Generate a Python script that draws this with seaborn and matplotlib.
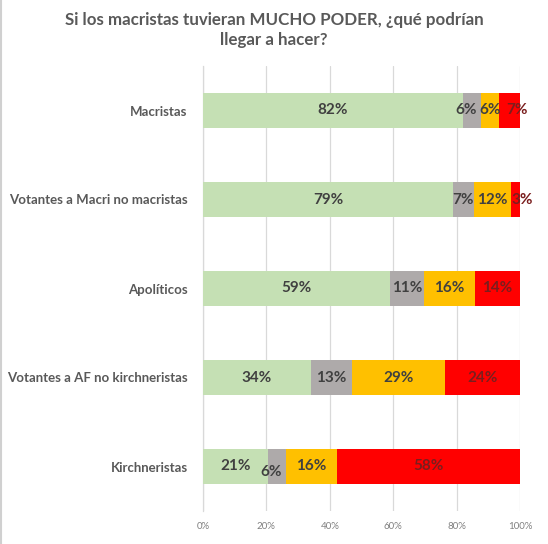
import matplotlib
matplotlib.use("Agg")
import matplotlib.pyplot as plt
import seaborn as sns
import numpy as np
import pandas as pd
from matplotlib.ticker import FuncFormatter
from matplotlib.lines import Line2D
from matplotlib.transforms import offset_copy

# ---- data ----
categories = ["Macristas", "Votantes a Macri no macristas", "Apolíticos",
              "Votantes a AF no kirchneristas", "Kirchneristas"]
green_vals = [81.9, 78.8, 59.0, 34.1, 20.6]
gray_vals = [5.7, 6.7, 10.6, 13.0, 5.6]
yellow_vals = [5.8, 11.6, 16.2, 29.1, 16.0]
red_vals = [6.6, 2.9, 14.2, 23.8, 57.8]
green_labels = ["82%", "79%", "59%", "34%", "21%"]
gray_labels = ["6%", "7%", "11%", "13%", "6%"]
yellow_labels = ["6%", "12%", "16%", "29%", "16%"]
red_labels = ["7%", "3%", "14%", "24%", "58%"]
x_ticks = [0, 20, 40, 60, 80, 100]
title_text = "Si los macristas tuvieran MUCHO PODER, ¿qué podrían\nllegar a hacer?"

# ---- style ----
colors = ["#C5E0B4", "#AEAAAA", "#FFC000", "#FF0000"]
label_colors = ["#404040", "#404040", "#404040", "#7A1E1E"]
# label nudges in pixels (dx, dy) keyed by (series, row) to mimic the original layout
nudges = {(1, 0): (-6, 0), (3, 0): (7, 0), (3, 1): (7, 0), (1, 4): (-6, -5)}

sns.set_theme(style="white")
plt.rcParams['font.family'] = ['Lato', 'DejaVu Sans']

fig = plt.figure(figsize=(5.48, 5.44), dpi=100)
ax = fig.add_axes([203/548, 1-511/544, (520-203)/548, (511-66)/544])

vals = [green_vals, gray_vals, yellow_vals, red_vals]
labels = [green_labels, gray_labels, yellow_labels, red_labels]
cums = np.cumsum(np.array(vals), axis=0)

for i in range(3, -1, -1):
    df = pd.DataFrame({"cat": categories, "val": cums[i]})
    sns.barplot(data=df, x="val", y="cat", orient="h", color=colors[i],
                width=0.395, saturation=1, ax=ax, zorder=3, linewidth=0)

for i in range(4):
    starts = cums[i] - np.array(vals[i])
    for j, cat in enumerate(categories):
        cx = starts[j] + vals[i][j] / 2
        dx, dy = nudges.get((i, j), (0, 0))
        tr = offset_copy(ax.transData, fig=fig, x=dx, y=dy, units="dots")
        ax.text(cx, j, labels[i][j], ha="center", va="center", transform=tr,
                fontsize=11, fontweight="bold", color=label_colors[i], zorder=5)

ax.set_xlim(0, 100)
ax.set_ylim(4.5, -0.5)
ax.set_xticks(x_ticks)
ax.xaxis.set_major_formatter(FuncFormatter(lambda v, p: f"{int(v)}%"))
ax.tick_params(axis="x", labelsize=7, colors="#808080", length=0, pad=8)
ax.tick_params(axis="y", labelsize=9.5, colors="#595959", length=0, pad=11)
for t in ax.get_yticklabels():
    t.set_fontweight("bold")
ax.set_xlabel("")
ax.set_ylabel("")
ax.grid(axis="x", color="#D9D9D9", linewidth=0.9, zorder=0)
ax.set_axisbelow(True)
for s in ["top", "right", "bottom"]:
    ax.spines[s].set_visible(False)
ax.spines["left"].set_color("#D9D9D9")
ax.spines["left"].set_linewidth(0.9)

fig.text(0.5, 1-30/544, title_text, ha="center", va="center", fontsize=12.2,
         fontweight="bold", color="#595959", linespacing=1.25)

fig.add_artist(Line2D([0.001, 0.001], [0, 1], transform=fig.transFigure,
                      color="#D0D0D0", linewidth=1.5))

fig.savefig("out.png", dpi=100, facecolor="white")
